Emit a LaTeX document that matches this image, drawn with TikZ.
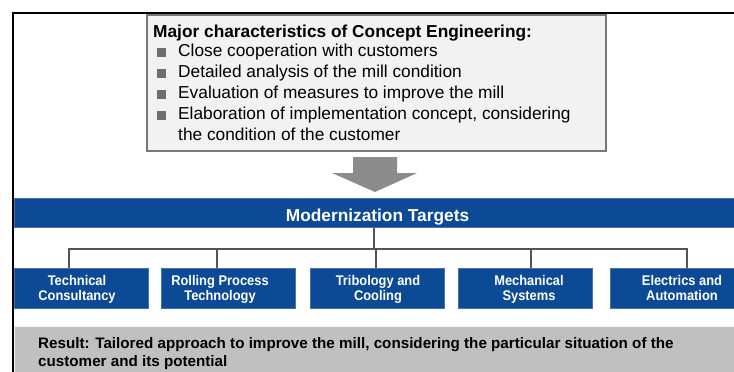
\documentclass[tikz,border=0pt]{standalone}
\usepackage{fontspec}
\setmainfont{Liberation Sans}
\newfontfamily\labelfont[FakeStretch=0.92]{Liberation Sans}

\definecolor{tgtblue}{RGB}{12,74,150}
\definecolor{tgtedge}{RGB}{70,115,180}
\definecolor{boxfill}{RGB}{242,242,242}
\definecolor{boxedge}{RGB}{120,120,120}
\definecolor{bulletgray}{RGB}{110,110,110}
\definecolor{arrowgray}{RGB}{140,140,140}
\definecolor{linkgray}{RGB}{85,85,85}
\definecolor{resultgray}{RGB}{192,192,192}

\newcommand{\sqbullet}{\makebox[25pt][l]{\hspace{4pt}\textcolor{bulletgray}{\rule{8.5pt}{8.5pt}}}}
% two centred lines whose baseline is that of the first line
\newcommand{\twolines}[2]{\begin{tabular}[t]{@{}c@{}}#1\\#2\end{tabular}}

\begin{document}
\begin{tikzpicture}[x=1pt,y=-1pt,
  frame/.style={line width=1.8pt, draw=black},
  charbox/.style={draw=boxedge, fill=boxfill, line width=1.8pt, anchor=north west,
    inner sep=0pt, minimum width=459pt, minimum height=136pt},
  chartext/.style={anchor=north west, inner sep=0pt, align=left,
    font=\fontsize{17.3}{21}\selectfont},
  bar/.style={fill=tgtblue, draw=tgtedge, line width=0.6pt, anchor=north west,
    inner sep=0pt, minimum width=720pt, minimum height=29pt},
  bartext/.style={anchor=base, inner sep=0pt, text=white,
    font=\bfseries\fontsize{17.3}{19}\selectfont},
  target/.style={fill=tgtblue, draw=tgtedge, line width=0.6pt, anchor=north west,
    inner sep=0pt, minimum width=134pt, minimum height=40pt},
  targettext/.style={anchor=base, inner sep=0pt, text=white,
    font=\labelfont\bfseries\fontsize{14}{15.5}\selectfont},
  link/.style={draw=linkgray, line width=2pt},
  resultbar/.style={fill=resultgray, draw=white!92!gray, line width=0.8pt,
    anchor=north west, inner sep=0pt, minimum width=721pt, minimum height=47pt},
  resulttext/.style={anchor=north west, inner sep=0pt, align=left,
    font=\bfseries\fontsize{15.2}{18}\selectfont},
]
\useasboundingbox (0,0) rectangle (734,372);

% characteristics box
\node[charbox] (chars) at (146,14) {};
\node[chartext] (chartxt) at (153,24.5) {%
  {\bfseries Major characteristics of Concept Engineering:}\\[-1.5pt]
  \sqbullet Close cooperation with customers\\
  \sqbullet Detailed analysis of the mill condition\\
  \sqbullet Evaluation of measures to improve the mill\\
  \sqbullet Elaboration of implementation concept, considering\\[-0.5pt]
  \hspace*{25pt}the condition of the customer};

% block arrow down to the targets bar
\fill[arrowgray] (353,157) -- (397,157) -- (397,173) -- (417,173)
  -- (375,192) -- (332,173) -- (353,173) -- cycle;

% modernization targets bar
\node[bar] (targets) at (14,198) {};
\node[bartext] (targetstxt) at (377.5,221) {Modernization Targets};

% target boxes and their labels
\node[target] (t1) at (14,268)  {};
\node[target] (t2) at (161,268) {};
\node[target] (t3) at (310,268) {};
\node[target] (t4) at (458,268) {};
\node[target] (t5) at (610,268) {};
\node[targettext] (t1txt) at (77,285)  {\twolines{Technical}{Consultancy}};
\node[targettext] (t2txt) at (220,285) {\twolines{Rolling Process}{Technology}};
\node[targettext] (t3txt) at (378,285) {\twolines{Tribology and}{Cooling}};
\node[targettext] (t4txt) at (529,285) {\twolines{Mechanical}{Systems}};
\node[targettext] (t5txt) at (682,285) {\twolines{Electrics and}{Automation}};

% tree connectors
\coordinate (hub) at ([yshift=-21pt]targets.south);
\draw[link] (targets.south) -- (hub);
\draw[link] ([xshift=-12.5pt]t1.north) |- (hub) -| ([xshift=10pt]t5.north);
\draw[link] ([xshift=-11pt]t2.north) -- ([xshift=-11pt]t2.north |- hub);
\draw[link] ([xshift=-1pt]t3.north) -- ([xshift=-1pt]t3.north |- hub);
\draw[link] ([xshift=6pt]t4.north) -- ([xshift=6pt]t4.north |- hub);

% result bar
\node[resultbar] (result) at (14,326) {};
\node[resulttext] (restxt) at (38,337) {%
  Result: Tailored approach to improve the mill, considering the particular situation of the\\
  customer and its potential};

% outer frame
\draw[frame] (734,13) -- (13,13) -- (13,372);
\end{tikzpicture}
\end{document}
